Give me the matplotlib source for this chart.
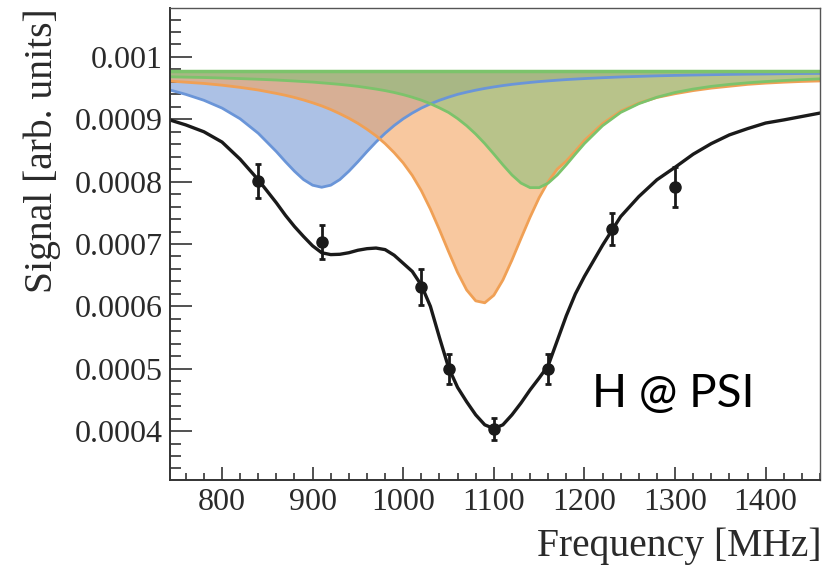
import numpy as np
import matplotlib.pyplot as plt
from matplotlib.ticker import FixedLocator, MultipleLocator

# measured points
freq_pts = [840, 910, 1020, 1050, 1100, 1160, 1230, 1300]
sig_pts = np.array([8.01, 7.03, 6.31, 5.00, 4.03, 5.00, 7.24, 7.92]) * 1e-4
sig_err = np.array([0.28, 0.27, 0.29, 0.24, 0.18, 0.24, 0.26, 0.32]) * 1e-4

# curves (x grid in MHz, signal in 1e-4 units)
freq = [740, 760, 780, 800, 820, 840, 860, 870, 880, 890, 900, 910, 920, 930,
        940, 950, 960, 970, 980, 990, 1000, 1010, 1020, 1030, 1040, 1050, 1060,
        1070, 1080, 1090, 1100, 1110, 1120, 1130, 1140, 1150, 1160, 1170, 1180,
        1190, 1200, 1220, 1240, 1260, 1280, 1300, 1320, 1340, 1360, 1380, 1400,
        1420, 1440, 1460]
fit_total = np.array([9.00, 8.91, 8.80, 8.635, 8.36, 8.03, 7.66, 7.46, 7.28, 7.12,
                      6.97, 6.86, 6.83, 6.835, 6.86, 6.90, 6.925, 6.935, 6.91, 6.82,
                      6.69, 6.56, 6.34, 6.00, 5.50, 5.02, 4.70, 4.47, 4.26, 4.10,
                      4.04, 4.10, 4.26, 4.45, 4.66, 4.85, 5.05, 5.45, 5.85, 6.20,
                      6.48, 6.98, 7.44, 7.76, 8.03, 8.23, 8.44, 8.61, 8.75, 8.85,
                      8.94, 8.99, 9.045, 9.10]) * 1e-4
comp_blue = np.array([9.48, 9.40, 9.305, 9.18, 9.008, 8.776, 8.482, 8.32, 8.167, 8.033,
                      7.943, 7.91, 7.943, 8.033, 8.167, 8.32, 8.482, 8.636, 8.776, 8.90,
                      9.008, 9.10, 9.18, 9.247, 9.305, 9.355, 9.40, 9.435, 9.467, 9.495,
                      9.519, 9.541, 9.56, 9.576, 9.591, 9.605, 9.616, 9.627, 9.637, 9.645,
                      9.653, 9.667, 9.679, 9.688, 9.697, 9.704, 9.71, 9.715, 9.72, 9.724,
                      9.727, 9.731, 9.734, 9.736]) * 1e-4
comp_orange = np.array([9.615, 9.595, 9.575, 9.547, 9.512, 9.47, 9.415, 9.385, 9.35, 9.31,
                        9.265, 9.215, 9.157, 9.09, 9.017, 8.935, 8.84, 8.735, 8.61, 8.465,
                        8.30, 8.10, 7.855, 7.56, 7.229, 6.88, 6.544, 6.263, 6.088, 6.057,
                        6.178, 6.422, 6.742, 7.09, 7.43, 7.742, 8.00, 8.20, 8.33, 8.49,
                        8.66, 8.93, 9.13, 9.26, 9.35, 9.41, 9.46, 9.50, 9.53, 9.56,
                        9.58, 9.595, 9.607, 9.615]) * 1e-4
comp_green = np.array([9.682, 9.676, 9.67, 9.662, 9.653, 9.642, 9.63, 9.622, 9.614, 9.605,
                       9.597, 9.585, 9.573, 9.56, 9.545, 9.528, 9.507, 9.485, 9.46, 9.43,
                       9.395, 9.354, 9.307, 9.25, 9.183, 9.11, 9.012, 8.897, 8.763, 8.611,
                       8.443, 8.27, 8.107, 7.977, 7.904, 7.904, 7.977, 8.107, 8.27, 8.443,
                       8.611, 8.897, 9.11, 9.25, 9.354, 9.43, 9.485, 9.528, 9.56, 9.585,
                       9.605, 9.622, 9.636, 9.648]) * 1e-4
baseline = 9.77e-4

xticks = [800, 900, 1000, 1100, 1200, 1300, 1400]
yticks = [0.0004, 0.0005, 0.0006, 0.0007, 0.0008, 0.0009, 0.001]
ytick_labels = ['0.0004', '0.0005', '0.0006', '0.0007', '0.0008', '0.0009', '0.001']

serif = 'Liberation Serif'
W, H = 840, 568
fig = plt.figure(figsize=(W / 100, H / 100), dpi=100)
ax = fig.add_axes([170 / W, 1 - 480 / H, 650 / W, 472 / H])

base = np.full(len(freq), baseline)
# components: blue, then orange, then green on top
ax.fill_between(freq, comp_blue, base, color='#5b84cc', alpha=0.5, lw=0)
ax.plot(freq, comp_blue, color='#6a95d8', lw=2)
ax.fill_between(freq, comp_orange, base, color='#f4a460', alpha=0.6, lw=0)
ax.plot(freq, comp_orange, color='#f0a055', lw=2)
ax.fill_between(freq, comp_green, base, color='#7ac076', alpha=0.5, lw=0)
ax.plot(freq, comp_green, color='#7cc36b', lw=2)
ax.plot(freq, base, color='#7cc36b', lw=2.5)

# total fit and data
ax.plot(freq, fit_total, color='#1a1a1a', lw=2.4)
ax.errorbar(freq_pts, sig_pts, yerr=sig_err, fmt='o', color='#1a1a1a', ms=8,
            elinewidth=2, capsize=2.5, capthick=2)

ax.set_xlim(742.6, 1460)
ax.set_ylim(3.215e-4, 10.785e-4)

ax.xaxis.set_major_locator(FixedLocator(xticks))
ax.xaxis.set_minor_locator(MultipleLocator(20))
ax.yaxis.set_major_locator(FixedLocator(yticks))
ax.yaxis.set_minor_locator(MultipleLocator(0.00002))
ax.set_yticklabels(ytick_labels)
ax.set_xticklabels([str(t) for t in xticks])

ax.tick_params(axis='both', which='both', direction='in', top=False, right=False,
               color='#333333', width=1.2, labelcolor='#2a2a2a')
ax.tick_params(axis='x', which='major', length=9.5, pad=6, labelsize=23)
ax.tick_params(axis='x', which='minor', length=5)
ax.tick_params(axis='y', which='major', length=15.5, pad=5, labelsize=23)
ax.tick_params(axis='y', which='minor', length=8)
for lab in ax.get_xticklabels() + ax.get_yticklabels():
    lab.set_family(serif)
for side in ['left', 'bottom']:
    ax.spines[side].set_linewidth(1.4)
    ax.spines[side].set_color('#333333')
for side in ['top', 'right']:
    ax.spines[side].set_linewidth(1.0)
    ax.spines[side].set_color('#555555')

fig.text(822 / W, 1 - 546 / H, 'Frequency [MHz]', ha='right', va='center',
         fontsize=28.5, family=serif, color='#2a2a2a')
fig.text(42 / W, 1 - 8 / H, 'Signal [arb. units]', rotation=90, ha='center',
         va='top', fontsize=28.5, family=serif, color='#2a2a2a')
fig.text(592 / W, 1 - 407 / H, 'H @ PSI', ha='left', va='baseline', fontsize=33,
         family='Lato', color='black')

fig.savefig('out.png', dpi=100)
